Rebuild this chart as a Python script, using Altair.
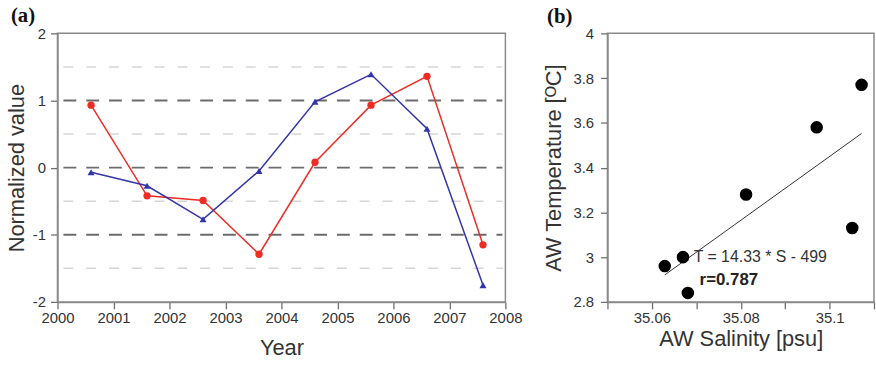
import altair as alt
import pandas as pd

# ---------------- data ----------------
years = [2000.6, 2001.6, 2002.6, 2003.6, 2004.6, 2005.6, 2006.6, 2007.6]
red_values = [0.93, -0.42, -0.49, -1.29, 0.08, 0.93, 1.36, -1.15]
blue_values = [-0.07, -0.27, -0.77, -0.05, 0.98, 1.39, 0.58, -1.75]
major_grid = [-1, 0, 1]
minor_grid = [-1.5, -0.5, 0.5, 1.5]
year_ticks = [2000, 2001, 2002, 2003, 2004, 2005, 2006, 2007, 2008]
value_ticks = [-2, -1, 0, 1, 2]

salinity = [35.0629, 35.0670, 35.0681, 35.0812, 35.0971, 35.1051, 35.1072]
temperature = [2.96, 3.00, 2.84, 3.28, 3.58, 3.13, 3.77]
sal_ticks = [35.05, 35.06, 35.07, 35.08, 35.09, 35.10, 35.11]
temp_ticks = [2.8, 2.9, 3.0, 3.1, 3.2, 3.3, 3.4, 3.5, 3.6, 3.7, 3.8, 3.9, 4.0]
annotations = ["T = 14.33 * S - 499", "r=0.787"]
panel_labels = ["(a)", "(b)"]

RED = "#ec2d26"
BLUE = "#3236a8"
AXIS_GRAY = "#8a8a8a"
FONT = "Liberation Sans"

red_df = pd.DataFrame({"year": years, "value": red_values})
blue_df = pd.DataFrame({"year": years, "value": blue_values})
major_df = pd.DataFrame({"value": major_grid})
minor_df = pd.DataFrame({"value": minor_grid})

xa = alt.X("year:Q", scale=alt.Scale(domain=[2000, 2008], nice=False, zero=False),
           axis=alt.Axis(values=year_ticks, format="d", title="Year", labelFlush=False,
                         labelPadding=2, titlePadding=12, grid=False))
ya = alt.Y("value:Q", scale=alt.Scale(domain=[-2, 2], nice=False, zero=False),
           axis=alt.Axis(values=value_ticks, format="d", title="Normalized value",
                         labelExpr="replace(datum.label, '\u2212', '-')",
                         labelPadding=5, titlePadding=4, grid=False))

minor_rules = alt.Chart(minor_df).mark_rule(
    color="#d6d6d6", strokeDash=[10, 13], strokeWidth=1.5, strokeDashOffset=-3
).encode(y=alt.Y("value:Q", scale=alt.Scale(domain=[-2, 2], nice=False)),
         x=alt.value(3), x2=alt.value(449))
major_rules = alt.Chart(major_df).mark_rule(
    color="#6c6c6c", strokeDash=[13, 10], strokeWidth=2, strokeDashOffset=-3
).encode(y=alt.Y("value:Q", scale=alt.Scale(domain=[-2, 2], nice=False)),
         x=alt.value(3), x2=alt.value(449))

red_line = alt.Chart(red_df).mark_line(color=RED, strokeWidth=1.5).encode(x=xa, y=ya)
red_pts = alt.Chart(red_df).mark_point(shape="circle", filled=True, color=RED,
                                       size=55, opacity=1).encode(x="year:Q", y="value:Q")
blue_line = alt.Chart(blue_df).mark_line(color=BLUE, strokeWidth=1.5).encode(x="year:Q", y="value:Q")
blue_pts = alt.Chart(blue_df).mark_point(shape="triangle-up", filled=True, color=BLUE,
                                         size=50, opacity=1).encode(x="year:Q", y="value:Q")

label_a = alt.Chart(pd.DataFrame({"t": [panel_labels[0]]})).mark_text(
    font="Liberation Serif", fontWeight="bold", fontSize=21, align="left",
    baseline="alphabetic", color="#111"
).encode(text="t:N", x=alt.value(-47), y=alt.value(-11))

panel_a = alt.layer(minor_rules, major_rules, red_line, blue_line, red_pts, blue_pts,
                    label_a).properties(width=452, height=271)

# ---------------- panel b ----------------
ts_df = pd.DataFrame({"salinity": salinity, "temperature": temperature})

xb = alt.X("salinity:Q", scale=alt.Scale(domain=[35.05, 35.11], nice=False, zero=False),
           axis=alt.Axis(values=sal_ticks, format=".2f", title="AW Salinity [psu]",
                         labelFlush=False, labelPadding=2, titlePadding=3,
                         labelExpr="datum.label == '35.06' ? '35.06' : datum.label == '35.08' ? '35.08' : datum.label == '35.10' ? '35.1' : ''",
                         grid=False))
yb = alt.Y("temperature:Q", scale=alt.Scale(domain=[2.8, 4.0], nice=False, zero=False),
           axis=alt.Axis(values=temp_ticks, title="AW Temperature [\u1d3cC]",
                         labelPadding=7, titlePadding=8,
                         labelExpr="round(datum.value * 10) % 2 == 0 ? format(datum.value, '~g') : ''",
                         grid=False))

pts_b = alt.Chart(ts_df).mark_circle(color="black", size=160, opacity=1).encode(x=xb, y=yb)
reg_b = alt.Chart(ts_df).transform_regression("salinity", "temperature").mark_line(
    color="#333333", strokeWidth=1).encode(x="salinity:Q", y="temperature:Q")

ann1 = alt.Chart(pd.DataFrame({"t": [annotations[0]]})).mark_text(
    font=FONT, fontSize=16, align="left", baseline="middle", color="#333"
).encode(text="t:N", x=alt.value(87), y=alt.value(226))
ann2 = alt.Chart(pd.DataFrame({"t": [annotations[1]]})).mark_text(
    font=FONT, fontSize=17, fontWeight="bold", align="left", baseline="middle", color="#222"
).encode(text="t:N", x=alt.value(93), y=alt.value(249))
label_b = alt.Chart(pd.DataFrame({"t": [panel_labels[1]]})).mark_text(
    font="Liberation Serif", fontWeight="bold", fontSize=21, align="left",
    baseline="alphabetic", color="#111"
).encode(text="t:N", x=alt.value(-61), y=alt.value(-10))

panel_b = alt.layer(reg_b, pts_b, ann1, ann2, label_b).properties(width=269, height=271)

chart = alt.hconcat(panel_a, panel_b, spacing=18).properties(
    padding={"left": 4, "top": 3, "right": 0, "bottom": 0}
).configure_view(
    stroke=AXIS_GRAY, strokeWidth=1.5
).configure_axis(
    labelFont=FONT, labelFontSize=15, labelColor="#333",
    titleFont=FONT, titleFontSize=22, titleColor="#333", titleFontWeight="normal",
    domainColor=AXIS_GRAY, domainWidth=1.5, tickColor="#707070", tickWidth=1.3,
    tickSize=7
)

chart.save("out.html", embed_options={"renderer": "svg", "actions": False})
